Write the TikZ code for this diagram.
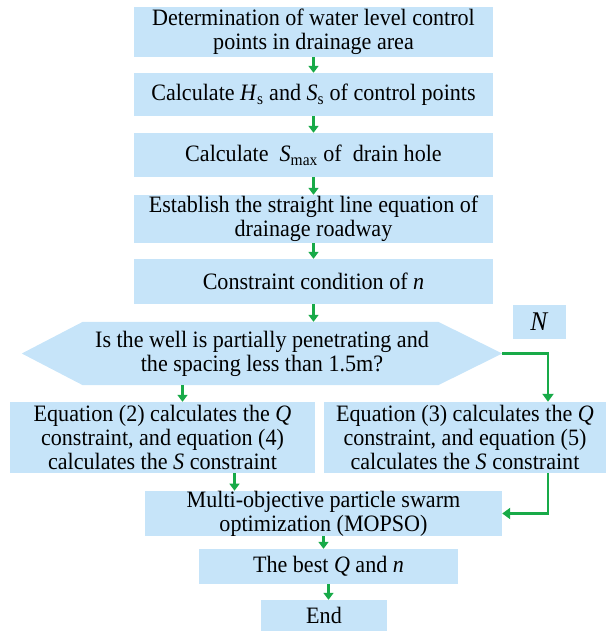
\documentclass[tikz,border=0pt]{standalone}
\usepackage{fontspec}
\setmainfont{Liberation Serif}[FakeStretch=0.94]
\usetikzlibrary{arrows.meta, positioning, calc, backgrounds}

\definecolor{boxblue}{RGB}{198,228,249}
\definecolor{flowgreen}{RGB}{24,170,72}

\begin{document}
\begin{tikzpicture}[
    x=1pt, y=1pt,
    every node/.style={font=\fontsize{23.5}{24}\selectfont},
    stepbox/.style={fill=boxblue, inner sep=0pt, align=center},
    condbox/.style={inner sep=0pt, align=center, minimum width=480pt, minimum height=63pt},
    flow/.style={-{Triangle[length=7pt, width=10pt]}, line width=2.6pt, flowgreen},
    route/.style={-{Triangle[length=8pt, width=11pt]}, line width=2.4pt, flowgreen}
]
\useasboundingbox (0,0) rectangle (606,-632);

% === NODES ===

% main column
\node[stepbox, minimum width=359pt, minimum height=50pt] (ctrl) at (313.5,-32)
    {Determination of water level control\\points in drainage area};
\node[stepbox, minimum width=359pt, minimum height=43pt] (hs) at (313.5,-94.5)
    {Calculate \textit{H}\textsubscript{s} and \textit{S}\textsubscript{s} of control points};
\node[stepbox, minimum width=359pt, minimum height=44pt] (smax) at (313.5,-155)
    {Calculate~ \textit{S}\textsubscript{max} of~ drain hole};
\node[stepbox, minimum width=359pt, minimum height=48pt] (line) at (313.5,-219)
    {Establish the straight line equation of\\drainage roadway};
\node[stepbox, minimum width=359pt, minimum height=45pt] (ncon) at (313.5,-281.5)
    {Constraint condition of \textit{n}};

% decision
\node[condbox] (cond) at (262,-353.5)
    {Is the well is partially penetrating and\\the spacing less than 1.5m?};
\node[stepbox, minimum width=53pt, minimum height=34pt, font=\fontsize{27}{27}\selectfont] (no) at (539.5,-322) {\textit{N}};

% the two branches
\node[stepbox, minimum width=305pt, minimum height=71pt] (eqL) at (162.5,-437.5)
    {Equation (2) calculates the \textit{Q}\\constraint, and equation (4)\\calculates the \textit{S} constraint};
\node[stepbox, minimum width=282pt, minimum height=71pt] (eqR) at (465,-437.5)
    {Equation (3) calculates the \textit{Q}\\constraint, and equation (5)\\calculates the \textit{S} constraint};

% end of the chart
\node[stepbox, minimum width=357pt, minimum height=43pt] (mopso) at (323.5,-513.5)
    {Multi-objective particle swarm\\optimization (MOPSO)};
\node[stepbox, minimum width=259pt, minimum height=35pt] (best) at (328.5,-566.5)
    {The best \textit{Q} and \textit{n}};
\node[stepbox, minimum width=126pt, minimum height=31pt] (end) at (324,-615.5) {End};

% hexagon behind the question
\begin{pgfonlayer}{background}
\fill[boxblue] (cond.west) -- ([xshift=61pt]cond.north west) -- ([xshift=-64pt]cond.north east)
    -- (cond.east) -- ([xshift=-64pt]cond.south east) -- ([xshift=61pt]cond.south west) -- cycle;
\end{pgfonlayer}

% === ARROWS ===

\draw[flow] (ctrl) -- (hs);
\draw[flow] (hs) -- (smax);
\draw[flow] (smax) -- (line);
\draw[flow] (line) -- (ncon);
\draw[flow] (ncon.south) -- (ncon.south |- cond.north);

% yes branch
\draw[flow] ([xshift=20pt]eqL.north |- cond.south) -- ([xshift=20pt]eqL.north);
\draw[flow] ([xshift=72pt]eqL.south) -- ([xshift=72pt]eqL.south |- mopso.north);

% N branch
\draw[route] (cond.east) -| ([xshift=83pt]eqR.north);
\draw[route] ([xshift=83pt]eqR.south) |- (mopso.east);

\draw[flow] (mopso.south) -- (mopso.south |- best.north);
\draw[flow] (best.south) -- (best.south |- end.north);

\end{tikzpicture}
\end{document}
